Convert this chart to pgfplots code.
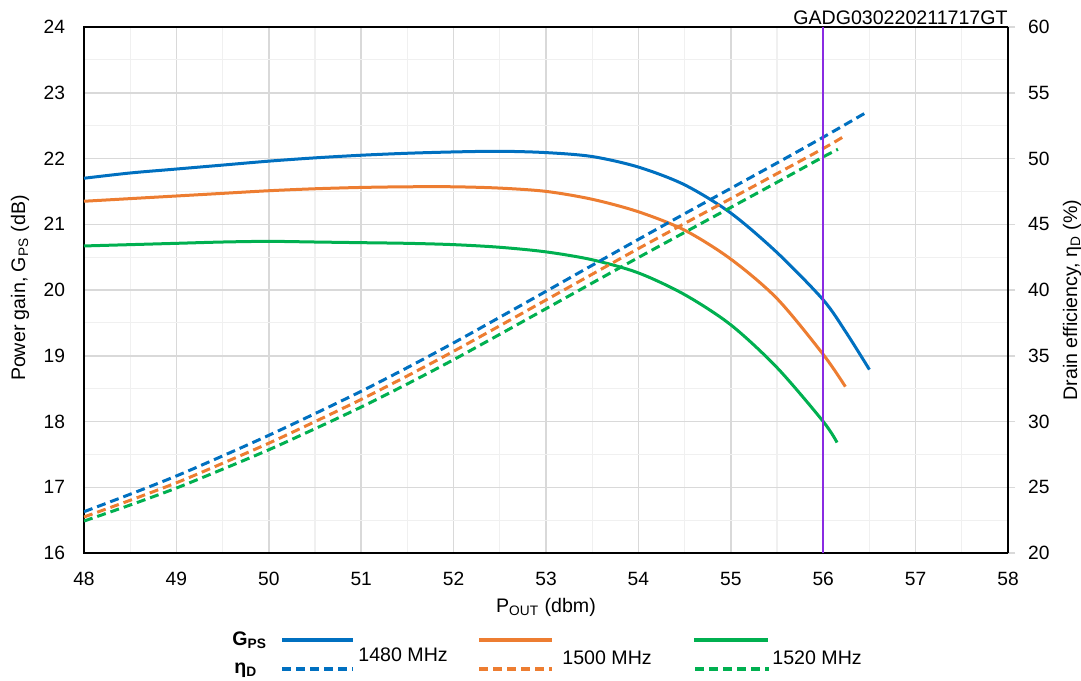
\documentclass[border=0pt]{standalone}
\usepackage{fontspec}
\setmainfont{Liberation Sans}
\usepackage{pgfplots}
\pgfplotsset{compat=1.18}
\definecolor{gblue}{HTML}{0070C0}
\definecolor{gorange}{HTML}{ED7D31}
\definecolor{ggreen}{HTML}{00B050}
\definecolor{gviolet}{HTML}{8A2BE2}
\definecolor{gridmaj}{HTML}{D9D9D9}
\definecolor{gridmin}{HTML}{F0F0F0}

\begin{document}
\begin{tikzpicture}[font=\fontsize{9.8}{11.5}\selectfont]
\pgfplotsset{
  common/.style={
    scale only axis, width=462pt, height=263pt,
    xmin=48, xmax=58,
    /pgf/number format/assume math mode=true,
    tick label style={font=\fontsize{9.6}{11}\selectfont},
  },
  curve/.style={line width=1.5pt, smooth},
  dcurve/.style={line width=1.5pt, smooth, dash pattern=on 4.5pt off 2.5pt},
}
% gain, left axis
\begin{axis}[
  common,
  ymin=16, ymax=24,
  xtick={48,...,58}, ytick={16,...,24},
  minor x tick num=1, minor y tick num=1,
  grid=both,
  major grid style={draw=gridmaj, line width=0.75pt},
  minor grid style={draw=gridmin, line width=0.6pt},
  major tick length=0pt, minor tick length=0pt,
  axis line style={black, line width=0.9pt},
  yticklabel style={xshift=-6pt},
  xticklabel style={yshift=-6pt},
]
\addplot[gblue, curve] coordinates {
  (48,21.70) (48.5,21.78) (49,21.84) (49.5,21.90) (50,21.96) (50.5,22.01)
  (51,22.05) (51.5,22.08) (52,22.10) (52.5,22.11) (53,22.09) (53.5,22.03)
  (54,21.87) (54.5,21.60) (55,21.17) (55.5,20.57) (56,19.85) (56.25,19.35)
  (56.5,18.79)};
\addplot[gorange, curve] coordinates {
  (48,21.35) (48.5,21.39) (49,21.43) (49.5,21.47) (50,21.51) (50.5,21.54)
  (51,21.56) (51.5,21.57) (52,21.57) (52.5,21.55) (53,21.50) (53.5,21.38)
  (54,21.19) (54.5,20.91) (55,20.47) (55.5,19.87) (56,19.02) (56.24,18.53)};
\addplot[ggreen, curve] coordinates {
  (48,20.67) (48.5,20.69) (49,20.71) (49.5,20.73) (50,20.74) (50.5,20.73)
  (51,20.72) (51.5,20.71) (52,20.69) (52.5,20.65) (53,20.58) (53.5,20.46)
  (54,20.26) (54.5,19.93) (55,19.47) (55.5,18.82) (56,18.00) (56.15,17.68)};
\end{axis}

% drain efficiency, right axis
\begin{axis}[
  common,
  ymin=20, ymax=60, ytick={20,25,...,60},
  axis y line*=right, axis x line=none,
  axis line style={black, line width=0.9pt},
  tick style={gridmaj, line width=0.75pt},
  major tick length=3.5pt, tick align=outside,
  yticklabel style={xshift=3pt},
]
\addplot[gblue, dcurve] coordinates {
  (48,23.14) (48.5,24.47) (49,25.86) (49.5,27.38) (50,28.95) (50.5,30.60)
  (51,32.30) (51.5,34.10) (52,35.98) (52.5,37.93) (53,39.90) (53.5,41.88)
  (54,43.85) (54.5,45.80) (55,47.73) (55.5,49.66) (56,51.62) (56.46,53.48)};
\addplot[gorange, dcurve] coordinates {
  (48,22.74) (48.5,24.01) (49,25.34) (49.5,26.82) (50,28.35) (50.5,29.99)
  (51,31.68) (51.5,33.47) (52,35.34) (52.5,37.28) (53,39.24) (53.5,41.20)
  (54,43.15) (54.5,45.06) (55,46.95) (55.5,48.85) (56,50.76) (56.22,51.66)};
\addplot[ggreen, dcurve] coordinates {
  (48,22.43) (48.5,23.65) (49,24.94) (49.5,26.37) (50,27.85) (50.5,29.45)
  (51,31.10) (51.5,32.86) (52,34.70) (52.5,36.63) (53,38.58) (53.5,40.53)
  (54,42.47) (54.5,44.38) (55,46.28) (55.5,48.19) (56,50.12) (56.16,50.70)};
\addplot[gviolet, line width=1.2pt] coordinates {(56,20) (56,60)};
\end{axis}

% texts and legend, placed in pixel units of the reference
\begin{scope}[x=0.5pt, y=-0.5pt, shift={(-84,-553)}]
\node[anchor=base east, inner sep=0pt] at (1008,25) {GADG030220211717GT};
\node at (546,607) {P\textsubscript{OUT} (dbm)};
\node[rotate=90] at (20,288) {Power gain, G\textsubscript{PS} (dB)};
\node[rotate=90] at (1072,300) {Drain efficiency, η\textsubscript{D} (\%)};
\node[anchor=west, inner sep=0pt, font=\fontsize{9.8}{11.5}\selectfont\bfseries] at (232,640) {G\textsubscript{PS}};
\node[anchor=west, inner sep=0pt, font=\fontsize{9.8}{11.5}\selectfont\bfseries] at (234,670) {η\textsubscript{D}};
\draw[gblue, line width=2pt] (282,640) -- (353,640);
\draw[gblue, line width=2pt, dash pattern=on 4.5pt off 2.5pt] (282,669) -- (353,669);
\node[anchor=west, inner sep=0pt] at (358,655) {1480 MHz};
\draw[gorange, line width=2pt] (479,640) -- (552,640);
\draw[gorange, line width=2pt, dash pattern=on 4.5pt off 2.5pt] (479,669) -- (552,669);
\node[anchor=west, inner sep=0pt] at (562,658) {1500 MHz};
\draw[ggreen, line width=2pt] (694,640) -- (768,640);
\draw[ggreen, line width=2pt, dash pattern=on 4.5pt off 2.5pt] (695,669) -- (769,669);
\node[anchor=west, inner sep=0pt] at (772,658) {1520 MHz};
\end{scope}

\pgfresetboundingbox
\path (-42pt,-63.5pt) rectangle (498.5pt,276.5pt);
\end{tikzpicture}
\end{document}
